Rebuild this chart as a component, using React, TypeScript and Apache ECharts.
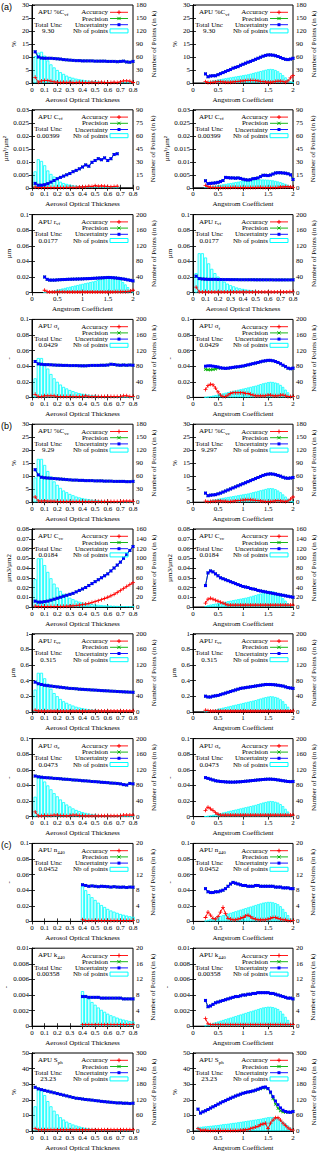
import React, { useEffect, useRef } from "react";
import * as echarts from "echarts";

// ---------- x positions of bins ----------
const AOT_X = [0.025,0.05,0.075,0.1,0.125,0.15,0.175,0.2,0.225,0.25,0.275,0.3,0.325,0.35,0.375,0.4,0.425,0.45,0.475,0.5,0.525,0.55,0.575,0.6,0.625,0.65,0.675,0.7,0.725,0.75,0.775,0.8];
const AOT_X_TO675 = [0.025,0.05,0.075,0.1,0.125,0.15,0.175,0.2,0.225,0.25,0.275,0.3,0.325,0.35,0.375,0.4,0.425,0.45,0.475,0.5,0.525,0.55,0.575,0.6,0.625,0.65,0.675];
const AOT_X_FROM40 = [0.4,0.425,0.45,0.475,0.5,0.525,0.55,0.575,0.6,0.625,0.65,0.675,0.7,0.725,0.75,0.775,0.8];
const ANG_X = [0.25,0.3,0.35,0.4,0.45,0.5,0.55,0.6,0.65,0.7,0.75,0.8,0.85,0.9,0.95,1,1.05,1.1,1.15,1.2,1.25,1.3,1.35,1.4,1.45,1.5,1.55,1.6,1.65,1.7,1.75,1.8,1.85,1.9,1.95,2];
const ANG_X_FROM10 = [0.1,0.15,0.2,0.25,0.3,0.35,0.4,0.45,0.5,0.55,0.6,0.65,0.7,0.75,0.8,0.85,0.9,0.95,1,1.05,1.1,1.15,1.2,1.25,1.3,1.35,1.4,1.45,1.5,1.55,1.6,1.65,1.7,1.75,1.8,1.85,1.9,1.95,2];

// ---------- row settings ----------
const ROW_TITLE = ["%C", "C", "r", "σ", "%C", "C", "r", "σ", "n", "k", "S"];
const ROW_SUB = ["vf", "vf", "vf", "f", "vc", "vc", "vc", "c", "440", "440", "ph"];
const ROW_TOTAL_L = ["9.30", "0.00399", "0.0177", "0.0429", "9.29", "0.0184", "0.315", "0.0473", "0.0452", "0.00358", "23.23"];
const ROW_TOTAL_R = ["9.30", "0.00399", "0.0177", "0.0429", "9.297", "0.0184", "0.315", "0.0473", "0.0452", "0.00358", "23.23"];
const ROW_YMAX = [30, 0.03, 0.1, 0.1, 30, 0.08, 1, 0.1, 0.1, 0.01, 50];
const ROW_YINT = [5, 0.005, 0.02, 0.02, 5, 0.01, 0.2, 0.02, 0.02, 0.002, 10];
const ROW_RMAX = [180, 90, 200, 200, 180, 160, 200, 200, 20, 20, 300];
const ROW_RINT = [30, 15, 40, 40, 30, 20, 40, 40, 4, 4, 60];
const ROW_YNAME = ["%", "µm³/µm²", "µm", "-", "%", "µm3/µm2", "µm", "-", "-", "-", "%"];
const ROW_NAMEGAP = [15, 22, 19, 19, 15, 20, 16, 19, 19, 22, 15];
const GROUP_LABELS = ["(a)", "(b)", "(c)"];
const GROUP_ROWS = [0, 4, 8];

// ---------- panel data ----------
const P0L_UNC = [12.0,10.0,9.6,9.5,9.5,9.5,9.4,9.3,9.2,9.0,8.9,8.8,8.7,8.6,8.6,8.5,8.5,8.5,8.5,8.4,8.4,8.4,8.4,8.3,8.3,8.3,8.2,8.3,8.4,8.1,8.0,8.3];
const P0L_ACC = [2.2,0.3,0.8,1.0,0.9,0.7,0.4,0.3,0.2,0.3,0.2,0.3,0.2,0.2,0.3,0.2,0.2,0.2,0.3,0.2,0.2,0.3,0.2,0.2,0.2,0.3,0.2,0.4,0.8,0.8,0.7,0.2];
const P0L_NB = [62,70,72,63,52,43,36,30,25,21,17,14,12,10,8.5,7.5,6.5,5.5,5,4.5,4,3.5,3,2.8,2.5,2.2,2,1.8,1.6,1.5,1.3,1.2];

const P0R_UNC = [3.5,2.4,2.7,2.8,2.8,3.2,3.6,4.0,4.4,4.8,5.2,5.7,6.0,6.3,6.8,7.2,7.6,8.0,8.3,8.7,9.1,9.5,9.9,10.3,10.6,10.8,10.8,10.7,10.5,10.2,9.8,9.4,9.1,9.0,9.2,9.5];
const P0R_ACC = [0.5,0.2,0.2,0.3,0.4,0.5,0.5,0.4,0.3,0.3,0.3,0.4,0.5,0.6,0.7,0.8,0.9,1.0,1.0,1.0,0.9,0.8,0.6,0.5,0.4,0.3,0.3,0.4,0.6,0.7,0.7,0.6,0.3,0.8,2.0,2.8];
const P0R_NB = [2,3.5,5,6,7,8,9,10,11,12,13,14,15,16,17,18,19,20,21.5,23,24.5,26,27.5,29,30.5,32,32.5,32,30,27,23,18,13,8,4,1.5];

const P1L_UNC = [0.0017,0.0010,0.0010,0.0012,0.0016,0.0022,0.0028,0.0035,0.0040,0.0045,0.0050,0.0055,0.0062,0.0067,0.0073,0.0080,0.0088,0.0083,0.0098,0.0105,0.0112,0.0108,0.0115,0.0105,0.0112,0.0128,0.0131];
const P1L_ACC = [0.0003,0.0001,0.0001,0.0001,0.0001,0.0001,0.0001,0.0001,0.0001,0.0001,0.0002,0.0002,0.0002,0.0002,0.0003,0.0003,0.0004,0.0006,0.0005,0.0008,0.0006,0.0007,0.0006,0.0005,0.0004,0.0005,0.0006];
const P1L_NB = [19,33,31,26,20,16,13,9.6,7,5.5,4.5,3.7,3,2.5,2.1,1.8,1.5,1.3,1.1,1,0.9,0.8,0.7,0.6,0.5,0.4,0.3];

const P1R_UNC = [0.0027,0.0016,0.0017,0.0018,0.0019,0.0021,0.0024,0.0028,0.0040,0.0039,0.0038,0.0038,0.0037,0.0038,0.0036,0.0033,0.0031,0.0030,0.0031,0.0035,0.0036,0.0038,0.0043,0.0048,0.0048,0.0047,0.0049,0.0053,0.0057,0.0058,0.0058,0.0057,0.0056,0.0054,0.0050,0.0032];
const P1R_ACC = [0.0009,0.0004,0.0002,0.0002,0.0001,0.0001,0.0001,0.0001,0.0001,0.0001,0.0001,0.0002,0.0002,0.0001,0.0001,0.0001,0.0001,0.0001,0.0001,0.0001,0.0001,0.0002,0.0002,0.0001,0.0001,0.0001,0.0001,0.0001,0.0001,0.0002,0.0003,0.0003,0.0004,0.0004,0.0003,0.0002];
const P1R_NB = [0.5,1,1.5,2,2.5,3,3.5,4,4.5,5,5.5,6,6.5,7,7.5,8,8.3,8.6,8.9,9.1,9.3,9.5,9.6,9.6,9.5,9.3,9,8.6,8,7.3,6.5,5.5,4.5,3.3,2,0.8];

const P2L_UNC = [0.020,0.017,0.016,0.016,0.016,0.0163,0.0165,0.0167,0.0168,0.017,0.0171,0.0172,0.0173,0.0174,0.0175,0.0176,0.0178,0.0179,0.018,0.0182,0.0184,0.0186,0.0188,0.019,0.0192,0.0194,0.0193,0.0191,0.0188,0.0184,0.018,0.0175,0.017,0.0163,0.0157,0.015];
const P2L_ACC = [0.003,0.001,0.0008,0.0008,0.0008,0.001,0.001,0.001,0.001,0.0008,0.0008,0.0008,0.0008,0.0008,0.0008,0.0008,0.0008,0.0008,0.0008,0.0008,0.0008,0.0008,0.0008,0.0008,0.0008,0.0008,0.0008,0.0008,0.001,0.001,0.001,0.0012,0.0012,0.0015,0.002,0.003];
const P2L_NB = [0.5,1.5,3,4.5,6,7.5,9,10.5,12,13.5,15,16.5,18,19.5,21,22.5,24,25.5,27,28.5,30,32,34,36,37.5,38.5,39,38.5,37,35,32,27,21,14,7,2];

const P2R_UNC = [0.021,0.018,0.0175,0.0172,0.017,0.017,0.017,0.0168,0.0168,0.0167,0.0167,0.0166,0.0166,0.0166,0.0165,0.0165,0.0165,0.0165,0.0165,0.0164,0.0164,0.0164,0.0164,0.0164,0.0164,0.0163,0.0163,0.0163,0.0163,0.0163,0.0163,0.0164];
const P2R_ACC = [0.007,0.001,0.0008,0.0008,0.0008,0.0008,0.0008,0.0008,0.0008,0.0008,0.0008,0.0008,0.0009,0.0008,0.0008,0.0008,0.0009,0.0008,0.0008,0.0008,0.0008,0.0009,0.0008,0.0008,0.0008,0.0008,0.0009,0.0008,0.0008,0.0008,0.001,0.001];
const P2R_NB = [50,101,101,90,75,61,50,41,34,28,23,19,16,13,11,9.5,8,7,6,5.2,4.6,4,3.5,3.1,2.8,2.5,2.2,2,1.8,1.6,1.4,1.3];

const P3L_UNC = [0.046,0.043,0.0425,0.042,0.042,0.0418,0.0415,0.0413,0.0412,0.041,0.041,0.0408,0.0408,0.0408,0.0406,0.0405,0.0405,0.0408,0.041,0.041,0.041,0.0412,0.0412,0.0415,0.0425,0.0422,0.0415,0.0412,0.0415,0.0412,0.0415,0.0412];
const P3L_ACC = [0.004,0.001,0.001,0.002,0.002,0.002,0.002,0.001,0.001,0.001,0.001,0.001,0.001,0.001,0.001,0.001,0.002,0.001,0.001,0.001,0.001,0.001,0.001,0.001,0.001,0.001,0.001,0.001,0.002,0.002,0.001,0.001];
const P3L_NB = [49,101,101,88,74,60,49,40,33,27,23,19,16,13,11,9.5,8,7,6,5.2,4.6,4,3.5,3.1,2.8,2.5,2.2,2,1.8,1.6,1.4,1.3];

const P3R_UNC = [0.040,0.0405,0.0405,0.040,0.0395,0.039,0.038,0.0375,0.0372,0.0375,0.038,0.0385,0.039,0.0393,0.0398,0.0403,0.041,0.0418,0.0425,0.0433,0.044,0.0448,0.0457,0.0465,0.047,0.0475,0.0475,0.047,0.046,0.0448,0.0432,0.0413,0.0395,0.0375,0.0368,0.0375];
const P3R_PREC = [0.036,0.0355,0.0355,0.0358,0.0365,0.0375,0.0377,0.0375,0.0372,0.0374,0.0378,0.0382,0.0387,0.039,0.0395,0.040,0.0407,0.0415,0.0423,0.0431,0.0438,0.0446,0.0455,0.0463,0.0468,0.0473,0.0473,0.0468,0.0458,0.0446,0.043,0.0411,0.0393,0.0373,0.0366,0.0373];
const P3R_ACC = [0.01,0.015,0.017,0.016,0.012,0.007,0.003,0.001,0.001,0.003,0.005,0.006,0.006,0.006,0.006,0.006,0.005,0.005,0.004,0.003,0.002,0.002,0.002,0.002,0.002,0.003,0.003,0.002,0.002,0.002,0.003,0.003,0.002,0.001,0.001,0.001];
const P3R_NB = [0.5,1.5,3,4.5,6,7.5,9,10.5,12,13.5,15,16.5,18,19.5,21,22.5,24,25.5,27,28.5,30,32,34,36,37.5,39,40,39.5,38,36,32,27,20,13,6,1.5];

const P4L_UNC = [12.5,10.5,9.6,9.4,9.3,9.2,9.1,9.0,8.9,8.8,8.7,8.6,8.5,8.5,8.4,8.4,8.3,8.3,8.3,8.2,8.2,8.2,8.1,8.1,8.1,8.0,8.0,8.0,8.0,7.9,7.9,8.0];
const P4L_ACC = [2.0,0.5,0.4,0.5,0.4,0.4,0.4,0.3,0.3,0.3,0.3,0.3,0.3,0.3,0.3,0.3,0.3,0.3,0.3,0.3,0.3,0.3,0.3,0.3,0.3,0.3,0.3,0.3,0.4,0.4,0.4,0.3];
const P4L_NB = [57,100,100,86,72,59,48,40,33,27,23,19,16,13,11,9.5,8,7,6,5.2,4.6,4,3.5,3.1,2.8,2.5,2.2,2,1.8,1.6,1.4,1.3];

const P4R_UNC = [3.5,2.5,2.7,2.8,2.9,3.2,3.5,3.9,4.3,4.7,5.1,5.5,5.9,6.3,6.7,7.1,7.5,7.9,8.3,8.7,9.1,9.5,9.9,10.3,10.6,10.8,10.9,10.8,10.6,10.3,10.0,9.6,9.3,9.2,9.3,9.5];
const P4R_ACC = [0.4,0.2,0.3,0.4,0.4,0.5,0.5,0.4,0.4,0.3,0.3,0.4,0.5,0.6,0.7,0.8,0.9,0.9,0.9,0.8,0.7,0.6,0.5,0.4,0.3,0.3,0.3,0.4,0.5,0.6,0.5,0.4,0.3,0.5,1.2,2.0];
const P4R_NB = [2,3.5,5,6,7,8,9,10,11,12,13,14,15,16,17,18,19,20,21.5,23,24.5,26,27.5,29,30.5,32,32.5,32,30,27,23,18,13,8,4,1.5];

const P5L_UNC = [0.006,0.005,0.005,0.0055,0.006,0.007,0.008,0.009,0.010,0.011,0.012,0.013,0.014,0.0155,0.017,0.0185,0.020,0.022,0.024,0.026,0.028,0.030,0.032,0.034,0.037,0.040,0.043,0.046,0.050,0.054,0.058,0.062];
const P5L_ACC = [0.001,0.0005,0.0005,0.0005,0.0005,0.0005,0.0005,0.0005,0.0006,0.0007,0.0008,0.001,0.0012,0.0015,0.002,0.0025,0.003,0.0037,0.0045,0.0055,0.0065,0.0075,0.0087,0.01,0.0115,0.013,0.015,0.017,0.019,0.021,0.023,0.025];
const P5L_NB = [57,100,100,86,72,59,48,40,33,27,23,19,16,13,11,9.5,8,7,6,5.2,4.6,4,3.5,3.1,2.8,2.5,2.2,2,1.8,1.6,1.4,1.3];

const P5R_UNC = [0.022,0.035,0.037,0.036,0.034,0.032,0.030,0.029,0.028,0.027,0.026,0.025,0.024,0.023,0.022,0.021,0.0205,0.02,0.019,0.0185,0.018,0.017,0.0165,0.016,0.0155,0.015,0.0145,0.014,0.0135,0.013,0.0125,0.012,0.0115,0.011,0.0105,0.01];
const P5R_ACC = [0.004,0.008,0.009,0.008,0.007,0.006,0.005,0.004,0.003,0.002,0.002,0.002,0.002,0.002,0.002,0.002,0.002,0.002,0.002,0.002,0.002,0.002,0.002,0.002,0.002,0.002,0.002,0.002,0.002,0.002,0.002,0.002,0.002,0.002,0.002,0.002];
const P5R_NB = [2,3.5,5,6,7,8,9,10,11,12,13,14,15,16,17,18,19,20,21.5,23,24.5,26,27.5,29,30.5,32,32.5,32,30,27,23,18,13,8,4,1.5];

const P6L_UNC = [0.38,0.36,0.35,0.34,0.335,0.33,0.325,0.32,0.315,0.31,0.305,0.3,0.298,0.295,0.29,0.288,0.285,0.283,0.28,0.278,0.275,0.272,0.27,0.268,0.265,0.263,0.26,0.258,0.256,0.254,0.252,0.25];
const P6L_ACC = [0.02,0.01,0.01,0.01,0.01,0.01,0.01,0.01,0.01,0.01,0.01,0.01,0.01,0.01,0.01,0.01,0.01,0.01,0.01,0.01,0.01,0.01,0.01,0.01,0.01,0.01,0.01,0.01,0.01,0.01,0.01,0.01];
const P6L_NB = [57,100,100,86,72,59,48,40,33,27,23,19,16,13,11,9.5,8,7,6,5.2,4.6,4,3.5,3.1,2.8,2.5,2.2,2,1.8,1.6,1.4,1.3];

const P6R_UNC = [0.2,0.19,0.19,0.2,0.205,0.21,0.22,0.23,0.24,0.25,0.26,0.27,0.28,0.29,0.30,0.305,0.31,0.315,0.32,0.325,0.33,0.335,0.34,0.345,0.35,0.35,0.35,0.348,0.345,0.34,0.335,0.33,0.32,0.31,0.305,0.3];
const P6R_ACC = [0.02,0.015,0.01,0.01,0.01,0.01,0.01,0.01,0.01,0.01,0.01,0.01,0.01,0.01,0.01,0.01,0.01,0.01,0.01,0.01,0.01,0.01,0.01,0.01,0.01,0.01,0.01,0.01,0.01,0.01,0.01,0.01,0.01,0.01,0.01,0.01];
const P6R_NB = [0.5,1.5,3,4.5,6,7.5,9,10.5,12,13.5,15,16.5,18,19.5,21,22.5,24,25.5,27,28.5,30,32,34,36,37.5,39,40,39.5,38,36,32,27,20,13,6,1.5];

const P7L_UNC = [0.052,0.051,0.0505,0.050,0.0498,0.0495,0.049,0.0488,0.0485,0.048,0.0478,0.0475,0.047,0.0468,0.0465,0.046,0.0458,0.0455,0.045,0.0448,0.0445,0.044,0.0438,0.0435,0.043,0.0428,0.0425,0.042,0.041,0.0405,0.0425,0.042];
const P7L_ACC = [0.006,0.001,0.001,0.0015,0.0015,0.0015,0.002,0.002,0.0015,0.0015,0.001,0.0015,0.002,0.002,0.0015,0.001,0.001,0.001,0.001,0.001,0.001,0.001,0.001,0.001,0.001,0.001,0.001,0.001,0.002,0.002,0.002,0.002];
const P7L_NB = [51,100,98,90,80,70,60,52,44,37,31,26,21,17,14,11.5,9.5,8,6.5,5.5,4.5,4,3.5,3,2.6,2.3,2,1.8,1.6,1.4,1.2,1.1];

const P7R_UNC = [0.050,0.049,0.048,0.047,0.046,0.0455,0.045,0.0448,0.0445,0.0443,0.0442,0.0442,0.0443,0.0445,0.0447,0.045,0.0453,0.0456,0.046,0.0463,0.0466,0.047,0.0473,0.0476,0.0478,0.048,0.048,0.0478,0.0475,0.047,0.0465,0.046,0.0455,0.045,0.0448,0.045];
const P7R_ACC = [0.008,0.012,0.01,0.008,0.005,0.003,0.002,0.002,0.002,0.002,0.002,0.002,0.002,0.002,0.002,0.002,0.002,0.002,0.002,0.002,0.002,0.002,0.002,0.002,0.002,0.002,0.002,0.002,0.002,0.002,0.002,0.002,0.002,0.002,0.002,0.002];
const P7R_NB = [0.5,1.5,3,4.5,6,7.5,9,10.5,12,13.5,15,16.5,18,19.5,21,22.5,24,25.5,27,28.5,30,32,34,36,37.5,39,40,39.5,38,36,32,27,20,13,6,1.5];

const P8L_UNC = [0.047,0.046,0.045,0.0455,0.045,0.0445,0.045,0.0448,0.0445,0.044,0.0445,0.044,0.0438,0.044,0.0435,0.044,0.0438];
const P8L_ACC = [0.002,0.001,0.001,0.001,0.001,0.001,0.001,0.001,0.001,0.001,0.001,0.001,0.001,0.001,0.001,0.001,0.001];
const P8L_NB = [9,8,7,6.2,5.5,4.8,4.2,3.7,3.2,2.8,2.5,2.2,1.9,1.7,1.5,1.3,1.2];

const P8R_UNC = [0.042,0.038,0.037,0.037,0.038,0.038,0.039,0.04,0.042,0.045,0.048,0.05,0.049,0.048,0.047,0.046,0.046,0.045,0.045,0.045,0.046,0.046,0.045,0.045,0.045,0.045,0.045,0.045,0.044,0.044,0.044,0.043,0.043,0.043,0.042,0.042];
const P8R_ACC = [0.005,0.012,0.008,0.004,0.003,0.006,0.012,0.018,0.01,0.004,0.003,0.002,0.002,0.003,0.004,0.005,0.007,0.008,0.006,0.004,0.003,0.002,0.002,0.002,0.002,0.003,0.004,0.005,0.005,0.004,0.003,0.002,0.002,0.001,0.001,0.001];
const P8R_NB = [0.2,0.4,0.6,0.8,1,1.2,1.4,1.6,1.8,2,2.2,2.4,2.6,2.8,3,3.2,3.4,3.6,3.8,4,4.2,4.4,4.6,4.8,4.9,5,5,4.9,4.7,4.4,3.9,3.2,2.4,1.6,0.8,0.3];

const P9L_UNC = [0.0038,0.0038,0.0037,0.0037,0.0037,0.0037,0.0036,0.0036,0.0036,0.0036,0.0036,0.0036,0.0036,0.0035,0.0035,0.0035,0.0035];
const P9L_ACC = [0.0002,0.0002,0.0002,0.0002,0.0002,0.0002,0.0002,0.0002,0.0002,0.0002,0.0002,0.0002,0.0002,0.0002,0.0002,0.0002,0.0002];
const P9L_NB = [9,8,7,6.2,5.5,4.8,4.2,3.7,3.2,2.8,2.5,2.2,1.9,1.7,1.5,1.3,1.2];

const P9R_UNC = [0.0033,0.0025,0.0026,0.0028,0.003,0.0031,0.0032,0.0033,0.0034,0.0035,0.0036,0.0037,0.0038,0.0038,0.0039,0.004,0.004,0.0041,0.0041,0.0042,0.0042,0.0043,0.0043,0.0043,0.0043,0.0043,0.0042,0.0042,0.0041,0.004,0.0039,0.0038,0.0037,0.0036,0.0036,0.0035];
const P9R_ACC = [0.001,0.0003,0.0002,0.0002,0.0002,0.0002,0.0002,0.0002,0.0002,0.0002,0.0002,0.0002,0.0002,0.0002,0.0002,0.0002,0.0002,0.0002,0.0002,0.0002,0.0002,0.0002,0.0002,0.0002,0.0002,0.0002,0.0002,0.0002,0.0002,0.0002,0.0002,0.0002,0.0002,0.0002,0.0002,0.0002];
const P9R_NB = [0.2,0.4,0.6,0.8,1,1.2,1.4,1.6,1.8,2,2.2,2.4,2.6,2.8,3,3.2,3.4,3.6,3.8,4,4.2,4.4,4.6,4.8,4.9,5,5,4.9,4.7,4.4,3.9,3.2,2.4,1.6,0.8,0.3];

const P10L_UNC = [28,27,26.5,26,25.5,25,24.5,24,23.5,23,22.5,22,21.5,21,20.8,20.5,20.2,20,19.8,19.5,19.3,19,18.8,18.6,18.4,18.2,18,18,17.8,17.8,17.6,17.8];
const P10L_ACC = [1.5,0.8,0.8,0.8,0.8,0.8,0.8,0.8,0.8,0.8,0.8,0.8,0.8,0.8,0.8,0.8,0.8,0.8,0.8,0.8,0.8,0.8,0.8,0.8,0.8,0.8,0.8,0.8,0.8,0.8,0.8,0.8];
const P10L_NB = [95,162,160,138,115,95,78,64,53,44,36,30,25,21,17.5,14.5,12,10,8.5,7.5,6.5,5.5,5,4.5,4,3.5,3,2.7,2.4,2.2,2,1.8];

const P10R_UNC = [14,11.5,12.3,13,13.8,14.7,15.5,16.3,17.2,18,18.8,19.5,20.3,21,21.7,22.4,23,23.6,24.2,24.6,25,25.3,25.7,26.2,26.8,27.4,28,28.2,27.2,25,22,19.2,16.8,14.8,13.3,12.5,12.1,12,12.5];
const P10R_PREC = [14,11.5,12.3,13,13.8,14.7,15.5,16.3,17.2,18,18.8,19.5,20.3,21,21.7,22.4,23,23.6,24.2,24.6,25,25.2,25.6,26.1,26.6,27.1,27.6,27.7,27.1,24.5,20.8,17.2,14.5,13,12.3,12,12,12,12.5];
const P10R_ACC = [1.5,0.5,0.5,0.5,0.4,0.4,0.3,0.3,0.3,0.3,0.3,0.3,0.3,0.3,0.4,0.4,0.4,0.5,0.5,0.8,1,1.5,2,2.5,3,4,4.5,5,1.5,5,7,8.5,8.5,7,5,3.5,2,1,0.5];
const P10R_NB = [15,16,17,18,19,20,21,22,23,24.5,26,27,28,29.5,31,32,33.5,35,36.5,38,39.5,41,42.5,44,45.5,47,49,51,53,54,54,52,48,42,36,29,21,13,5];

type Panel = { row: number; col: number; kind: "aot" | "ang"; xs: number[]; acc: number[]; prec: number[]; unc: number[]; nb: number[] };

const PANELS: Panel[] = [
  { row: 0, col: 0, kind: "aot", xs: AOT_X, acc: P0L_ACC, prec: P0L_UNC, unc: P0L_UNC, nb: P0L_NB },
  { row: 0, col: 1, kind: "ang", xs: ANG_X, acc: P0R_ACC, prec: P0R_UNC, unc: P0R_UNC, nb: P0R_NB },
  { row: 1, col: 0, kind: "aot", xs: AOT_X_TO675, acc: P1L_ACC, prec: P1L_UNC, unc: P1L_UNC, nb: P1L_NB },
  { row: 1, col: 1, kind: "ang", xs: ANG_X, acc: P1R_ACC, prec: P1R_UNC, unc: P1R_UNC, nb: P1R_NB },
  { row: 2, col: 0, kind: "ang", xs: ANG_X, acc: P2L_ACC, prec: P2L_UNC, unc: P2L_UNC, nb: P2L_NB },
  { row: 2, col: 1, kind: "aot", xs: AOT_X, acc: P2R_ACC, prec: P2R_UNC, unc: P2R_UNC, nb: P2R_NB },
  { row: 3, col: 0, kind: "aot", xs: AOT_X, acc: P3L_ACC, prec: P3L_UNC, unc: P3L_UNC, nb: P3L_NB },
  { row: 3, col: 1, kind: "ang", xs: ANG_X, acc: P3R_ACC, prec: P3R_PREC, unc: P3R_UNC, nb: P3R_NB },
  { row: 4, col: 0, kind: "aot", xs: AOT_X, acc: P4L_ACC, prec: P4L_UNC, unc: P4L_UNC, nb: P4L_NB },
  { row: 4, col: 1, kind: "ang", xs: ANG_X, acc: P4R_ACC, prec: P4R_UNC, unc: P4R_UNC, nb: P4R_NB },
  { row: 5, col: 0, kind: "aot", xs: AOT_X, acc: P5L_ACC, prec: P5L_UNC, unc: P5L_UNC, nb: P5L_NB },
  { row: 5, col: 1, kind: "ang", xs: ANG_X, acc: P5R_ACC, prec: P5R_UNC, unc: P5R_UNC, nb: P5R_NB },
  { row: 6, col: 0, kind: "aot", xs: AOT_X, acc: P6L_ACC, prec: P6L_UNC, unc: P6L_UNC, nb: P6L_NB },
  { row: 6, col: 1, kind: "ang", xs: ANG_X, acc: P6R_ACC, prec: P6R_UNC, unc: P6R_UNC, nb: P6R_NB },
  { row: 7, col: 0, kind: "aot", xs: AOT_X, acc: P7L_ACC, prec: P7L_UNC, unc: P7L_UNC, nb: P7L_NB },
  { row: 7, col: 1, kind: "ang", xs: ANG_X, acc: P7R_ACC, prec: P7R_UNC, unc: P7R_UNC, nb: P7R_NB },
  { row: 8, col: 0, kind: "aot", xs: AOT_X_FROM40, acc: P8L_ACC, prec: P8L_UNC, unc: P8L_UNC, nb: P8L_NB },
  { row: 8, col: 1, kind: "ang", xs: ANG_X, acc: P8R_ACC, prec: P8R_UNC, unc: P8R_UNC, nb: P8R_NB },
  { row: 9, col: 0, kind: "aot", xs: AOT_X_FROM40, acc: P9L_ACC, prec: P9L_UNC, unc: P9L_UNC, nb: P9L_NB },
  { row: 9, col: 1, kind: "ang", xs: ANG_X, acc: P9R_ACC, prec: P9R_UNC, unc: P9R_UNC, nb: P9R_NB },
  { row: 10, col: 0, kind: "aot", xs: AOT_X, acc: P10L_ACC, prec: P10L_UNC, unc: P10L_UNC, nb: P10L_NB },
  { row: 10, col: 1, kind: "ang", xs: ANG_X_FROM10, acc: P10R_ACC, prec: P10R_PREC, unc: P10R_UNC, nb: P10R_NB },
];

// ---------- styling ----------
const FONT = '"Liberation Serif", "Times New Roman", serif';
const RED = "#ff0000";
const GREEN = "#00b000";
const BLUE = "#0000ff";
const CYAN = "#00ffff";
const PLUS = "path://M4,0H6V4H10V6H6V10H4V6H0V4H4Z";
const ROW_H = 104.8;
const PLOT_H = 78;

function pairs(xs: number[], ys: number[]) {
  return xs.map((x, i) => [x, ys[i]]);
}

function buildOption() {
  const grid: any[] = [];
  const xAxis: any[] = [];
  const topAxes: any[] = [];
  const yAxis: any[] = [];
  const series: any[] = [];
  const graphic: any[] = [];
  const txt = { fontSize: 7, fontFamily: FONT, color: "#000" };

  PANELS.forEach((p, i) => {
    const left = p.col === 0 ? 32 : 193;
    const width = p.col === 0 ? 101 : 100;
    const top = 5 + p.row * ROW_H;
    const right = left + width;
    const isAot = p.kind === "aot";
    const xMax = isAot ? 0.8 : 2;
    const xInt = isAot ? 0.1 : 0.5;
    const binW = isAot ? 0.025 : 0.05;

    grid.push({ left, top, width, height: PLOT_H, show: true, borderColor: "#000", borderWidth: 1, backgroundColor: "transparent", outerBoundsMode: "none" });

    xAxis.push({
      gridIndex: i, type: "value", min: 0, max: xMax, interval: xInt,
      name: isAot ? "Aerosol Optical Thickness" : "Angstrom Coefficient",
      nameLocation: "middle", nameGap: 13, nameTextStyle: txt,
      axisLine: { show: true, lineStyle: { color: "#000", width: 1 } },
      axisTick: { show: true, inside: true, length: 3, lineStyle: { color: "#000", width: 0.8 } },
      axisLabel: { ...txt, margin: 3 },
      splitLine: { show: false },
    });
    topAxes.push({
      gridIndex: i, type: "value", min: 0, max: xMax, interval: xInt, position: "top",
      axisLine: { show: false },
      axisTick: { show: true, inside: true, length: 3, lineStyle: { color: "#000", width: 0.8 } },
      axisLabel: { show: false }, splitLine: { show: false },
    });
    yAxis.push({
      gridIndex: i, type: "value", min: 0, max: ROW_YMAX[p.row], interval: ROW_YINT[p.row], position: "left",
      name: ROW_YNAME[p.row], nameLocation: "middle", nameRotate: 90, nameGap: ROW_NAMEGAP[p.row], nameTextStyle: txt,
      axisLine: { show: true, lineStyle: { color: "#000", width: 1 } },
      axisTick: { show: true, inside: true, length: 3, lineStyle: { color: "#000", width: 0.8 } },
      axisLabel: { ...txt, margin: 3 },
      splitLine: { show: false },
    });
    yAxis.push({
      gridIndex: i, type: "value", min: 0, max: ROW_RMAX[p.row], interval: ROW_RINT[p.row], position: "right",
      name: "Number of Points (in k)", nameLocation: "middle", nameRotate: 90, nameGap: 16, nameTextStyle: txt,
      axisLine: { show: true, lineStyle: { color: "#000", width: 1 } },
      axisTick: { show: true, inside: true, length: 3, lineStyle: { color: "#000", width: 0.8 } },
      axisLabel: { ...txt, margin: 3 },
      splitLine: { show: false },
    });

    const barW = (width * binW) / xMax;
    series.push({
      type: "bar", xAxisIndex: i, yAxisIndex: 2 * i + 1, data: pairs(p.xs, p.nb), barWidth: barW,
      itemStyle: { color: "rgba(0,255,255,0.12)", borderColor: CYAN, borderWidth: 0.8 }, z: 1, silent: true,
    });
    series.push({
      type: "line", xAxisIndex: i, yAxisIndex: 2 * i, data: pairs(p.xs, p.acc), symbol: PLUS, symbolSize: 4,
      lineStyle: { color: RED, width: 0.9 }, itemStyle: { color: RED }, z: 3, silent: true,
    });
    series.push({
      type: "line", xAxisIndex: i, yAxisIndex: 2 * i, data: pairs(p.xs, p.prec), symbol: PLUS, symbolRotate: 45, symbolSize: 4,
      lineStyle: { color: GREEN, width: 0.9 }, itemStyle: { color: GREEN }, z: 4, silent: true,
    });
    series.push({
      type: "line", xAxisIndex: i, yAxisIndex: 2 * i, data: pairs(p.xs, p.unc), symbol: "rect", symbolSize: 3,
      lineStyle: { color: BLUE, width: 0.9 }, itemStyle: { color: BLUE }, z: 5, silent: true,
    });

    graphic.push({
      type: "text", x: left + 6, y: top + 7, z: 100,
      style: {
        text: `{m|APU ${ROW_TITLE[p.row]}}{s|${ROW_SUB[p.row]}}`,
        verticalAlign: "middle", align: "left",
        rich: {
          m: { fontSize: 7, fontFamily: FONT, fill: "#000", lineHeight: 9 },
          s: { fontSize: 5, fontFamily: FONT, fill: "#000", lineHeight: 5, verticalAlign: "bottom" },
        },
      },
    });
    graphic.push({ type: "text", x: left + 16, y: top + 19.5, z: 100, style: { text: "Total Unc", font: `7px ${FONT}`, fill: "#000", align: "center", verticalAlign: "middle" } });
    graphic.push({ type: "text", x: left + 16, y: top + 26, z: 100, style: { text: p.col === 0 ? ROW_TOTAL_L[p.row] : ROW_TOTAL_R[p.row], font: `7px ${FONT}`, fill: "#000", align: "center", verticalAlign: "middle" } });

    const labels = ["Accuracy", "Precision", "Uncertainty", "Nb of points"];
    labels.forEach((lab, k) => {
      const y = top + 7.3 + k * 6.2;
      graphic.push({ type: "text", x: right - 25, y, z: 100, style: { text: lab, font: `7px ${FONT}`, fill: "#000", align: "right", verticalAlign: "middle" } });
      const x1 = right - 23, x2 = right - 5, cx = right - 14;
      if (k < 3) {
        const col = [RED, GREEN, BLUE][k];
        graphic.push({ type: "line", z: 100, shape: { x1, y1: y, x2, y2: y }, style: { stroke: col, lineWidth: 0.9 } });
        if (k === 0) {
          graphic.push({ type: "line", z: 100, shape: { x1: cx - 2, y1: y, x2: cx + 2, y2: y }, style: { stroke: col, lineWidth: 1 } });
          graphic.push({ type: "line", z: 100, shape: { x1: cx, y1: y - 2, x2: cx, y2: y + 2 }, style: { stroke: col, lineWidth: 1 } });
        } else if (k === 1) {
          graphic.push({ type: "line", z: 100, shape: { x1: cx - 1.6, y1: y - 1.6, x2: cx + 1.6, y2: y + 1.6 }, style: { stroke: col, lineWidth: 1 } });
          graphic.push({ type: "line", z: 100, shape: { x1: cx - 1.6, y1: y + 1.6, x2: cx + 1.6, y2: y - 1.6 }, style: { stroke: col, lineWidth: 1 } });
        } else {
          graphic.push({ type: "rect", z: 100, shape: { x: cx - 1.5, y: y - 1.5, width: 3, height: 3 }, style: { fill: col } });
        }
      } else {
        graphic.push({ type: "rect", z: 100, shape: { x: x1, y: y - 2, width: x2 - x1, height: 4 }, style: { fill: "none", stroke: CYAN, lineWidth: 1 } });
      }
    });
  });

  GROUP_LABELS.forEach((lab, g) => {
    graphic.push({
      type: "text", x: 1, y: 5 + GROUP_ROWS[g] * ROW_H + 2, z: 100,
      style: { text: lab, font: `9px "Liberation Sans", Arial, sans-serif`, fill: "#000", align: "left", verticalAlign: "middle" },
    });
  });

  return {
    animation: false,
    backgroundColor: "#fff",
    grid,
    xAxis: [...xAxis, ...topAxes],
    yAxis,
    series,
    graphic,
  };
}

export default function App() {
  const ref = useRef<HTMLDivElement>(null);
  useEffect(() => {
    if (!ref.current) return;
    const chart = echarts.init(ref.current, null, { renderer: "svg" });
    chart.setOption(buildOption() as any);
    return () => chart.dispose();
  }, []);
  return <div ref={ref} style={{ position: "absolute", left: 0, top: 0, width: 320, height: 1152, background: "#fff" }} />;
}
